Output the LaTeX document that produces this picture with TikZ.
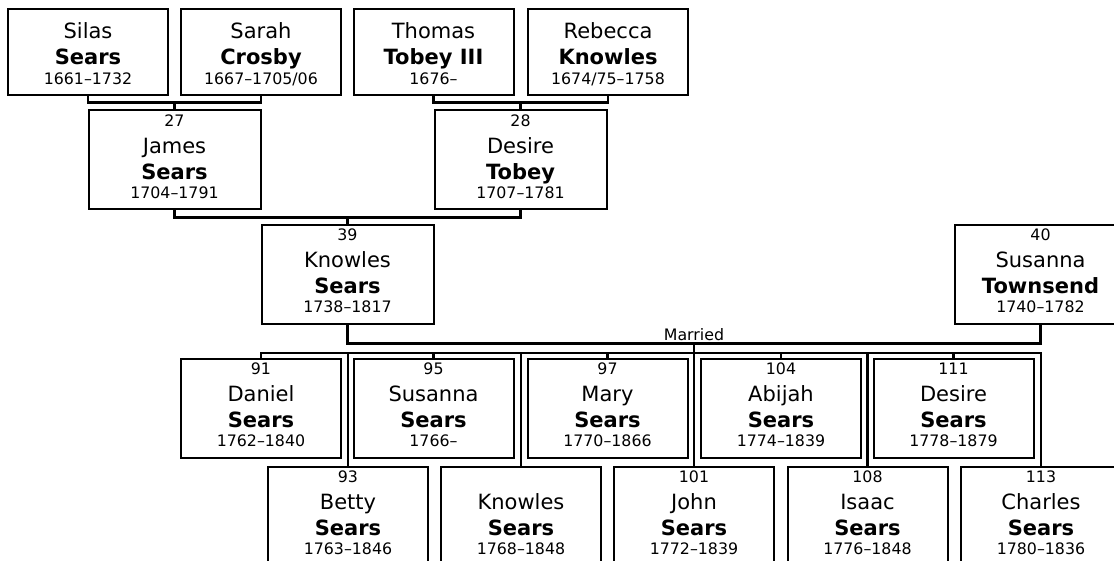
\documentclass[tikz,border=0pt]{standalone}
\usepackage{fontspec}
\setmainfont{DejaVu Sans}
\tikzstyle{person}=[draw,rectangle,line width=2pt,inner sep=0pt,align=center,font=\fontsize{21}{26}\selectfont]
\tikzstyle{old person}=[person,minimum width=160pt,minimum height=86pt]
\tikzstyle{wide person}=[person,minimum width=172pt,minimum height=99pt]
\tikzstyle{child}=[person,minimum width=160pt,minimum height=99pt]
\tikzstyle{link}=[draw,line width=2.2pt]
\tikzstyle{small}=[font=\fontsize{15.8}{19}\selectfont]
\newcommand{\numline}[1]{{\fontsize{15.8}{19}\selectfont\rule{0pt}{11.5pt}#1}}
\newcommand{\dateline}[1]{{\fontsize{15.8}{19}\selectfont#1\rule[-7pt]{0pt}{0pt}}}

\begin{document}
\begin{tikzpicture}[x=1pt,y=-1pt]
    \useasboundingbox (0,0) rectangle (1114,561);
    \clip (0,0) rectangle (1114,561);
    % Great-grandparents
    \foreach \pos/\name/\first/\last/\dates in {{(88,52)/silas/Silas/Sears/1661–1732}, {(261,52)/sarah/Sarah/Crosby/{1667–1705/06}}, {(433.5,52)/thomas/Thomas/Tobey III/1676–}, {(608,52)/rebecca/Rebecca/Knowles/{1674/75–1758}}}
        \node[old person] (\name) at \pos {\rule{0pt}{27pt}\first\\\textbf{\last}\\[-6pt]\dateline{\dates}};

    % Grandparents and parents
    \foreach \pos/\name/\num/\first/\last/\dates in {{(174.5,160)/james/27/James/Sears/1704–1791}, {(520.5,160)/desire28/28/Desire/Tobey/1707–1781}, {(347.5,274.5)/knowles39/39/Knowles/Sears/1738–1817}, {(1040.5,274.5)/susanna40/40/Susanna/Townsend/1740–1782}}
        \node[wide person] (\name) at \pos {\numline{\num}\\[1pt]\first\\\textbf{\last}\\[-7pt]\dateline{\dates}};

    % Children
    \foreach \pos/\name/\num/\first/\last/\dates in {{(261,408.5)/daniel/91/Daniel/Sears/1762–1840}, {(433.5,408.5)/susanna95/95/Susanna/Sears/1766–}, {(607.5,408.5)/mary/97/Mary/Sears/1770–1866}, {(781,408.5)/abijah/104/Abijah/Sears/1774–1839}, {(953.5,408.5)/desire111/111/Desire/Sears/1778–1879}, {(348,516.5)/betty/93/Betty/Sears/1763–1846}, {(521,516.5)/knowles68//Knowles/Sears/1768–1848}, {(694,516.5)/john/101/John/Sears/1772–1839}, {(867.5,516.5)/isaac/108/Isaac/Sears/1776–1848}, {(1041,516.5)/charles/113/Charles/Sears/1780–1836}}
        \node[child] (\name) at \pos {\numline{\num}\\[1pt]\first\\\textbf{\last}\\[-7pt]\dateline{\dates}};

    % Connect parents with children
    \coordinate (bar27) at (174.5,102.5);
    \coordinate (bar28) at (520.5,102.5);
    \coordinate (bar39) at (347.5,217.5);
    \coordinate (married) at (694,343.5);
    \coordinate (bus) at (694,353);
    \path[link] (silas.south) |- (bar27) -| (sarah.south);
    \path[link] (bar27) -- (james.north);
    \path[link] (thomas.south) |- (bar28) -| (rebecca.south);
    \path[link] (bar28) -- (desire28.north);
    \path[link] (james.south) |- (bar39) -| (desire28.south);
    \path[link] (bar39) -- (knowles39.north);
    \path[link] (knowles39.south) |- (married) -| (susanna40.south);
    \node[small,above,inner sep=3pt] (marriedlabel) at (married) {Married};
    \path[link] (married) -- (bus);
    \path[link] (daniel.north) |- (bus) -| (charles.north);
    \foreach \kid in {susanna95,mary,abijah,desire111,betty,knowles68,john,isaac}
        \path[link] (\kid.north) -- (\kid.north |- bus);
\end{tikzpicture}
\end{document}
